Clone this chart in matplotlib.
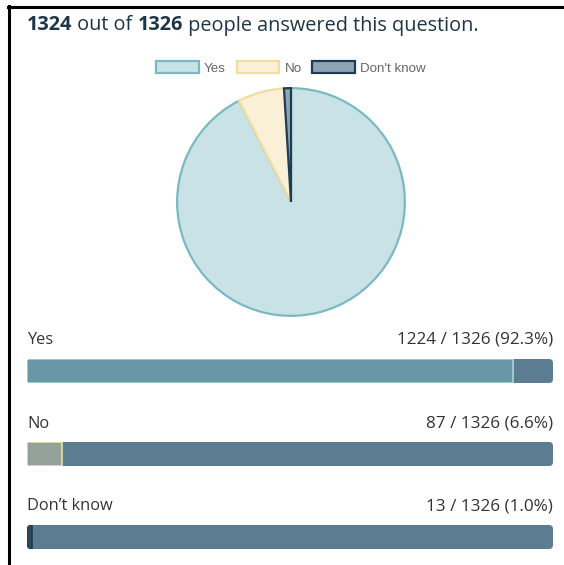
import matplotlib
matplotlib.use("Agg")
import matplotlib.pyplot as plt
from matplotlib.patches import Patch, FancyBboxPatch

categories = ["Yes", "No", "Don\u2019t know"]
legend_labels = ["Yes", "No", "Don't know"]
counts = [1224, 87, 13]
total = 1326
answered = 1324

pie_fill = ["#c8e2e5", "#faf0d8", "#8fa5b5"]
pie_edge = ["#7ab9c1", "#f0dea0", "#1f3c52"]
bar_fill = ["#6897a7", "#94a39a", "#2c4a5e"]
bar_edge = ["#a9d3d9", "#f0dea0", "#1f3c52"]
track = "#5c7d91"
text_col = "#333333"
title_col = "#1d3547"

W, H = 564, 565
fig = plt.figure(figsize=(W / 100, H / 100), dpi=100)
fig.patch.set_facecolor("white")

def fx(px):
    return px / W

def fy(py):
    return 1 - py / H

# frame lines (top and left)
fig.add_artist(plt.Line2D([fx(8), 1], [fy(6.5), fy(6.5)], color="black", lw=2.2))
fig.add_artist(plt.Line2D([fx(9), fx(9)], [fy(5.5), 0], color="black", lw=2.2))

# title with bold numbers
title_parts = [(str(answered), "bold"), (" out of ", "normal"), (str(total), "bold"),
               (" people answered this question.", "normal")]
fig.canvas.draw()
renderer = fig.canvas.get_renderer()
x = fx(27)
for s, w in title_parts:
    t = fig.text(x, fy(25.5), s, fontsize=14.3, fontweight=w, color=title_col,
                 family="Open Sans", va="center", ha="left")
    bb = t.get_window_extent(renderer=renderer)
    x += bb.width / W

# pie
pax = fig.add_axes([fx(176), fy(317), fx(230), 230 / H])
wedges, _ = pax.pie(counts, startangle=90, counterclock=False, colors=pie_fill,
                    wedgeprops=dict(linewidth=1.6))
for wdg, ec in zip(wedges, pie_edge):
    wdg.set_edgecolor(ec)
pax.set_xlim(-1.01, 1.01)
pax.set_ylim(-1.01, 1.01)
pax.set_aspect("equal")

# legend
handles = [Patch(facecolor=f, edgecolor=e, linewidth=1.6, label=l)
           for f, e, l in zip(pie_fill, pie_edge, legend_labels)]
leg = fig.legend(handles=handles, loc="center", bbox_to_anchor=(fx(291), fy(68)),
                 ncol=3, frameon=False, handlelength=3.2, handleheight=0.98,
                 handletextpad=0.38, columnspacing=0.82, borderpad=0, borderaxespad=0,
                 prop=dict(family="Liberation Sans", size=9.6))
for t in leg.get_texts():
    t.set_color("#666666")

# bars
label_y = [339.5, 423.5, 506.5]
bar_top = [359, 442, 525]
bar_h = 24
bar_w = 553 - 27
rpx = 4
for i, (cat, c) in enumerate(zip(categories, counts)):
    fig.text(fx(27), fy(label_y[i]), cat, fontsize=11.8, color=text_col,
             family="Open Sans", va="center", ha="left")
    fig.text(fx(553), fy(label_y[i]), f"{c} / {total} ({c / total * 100:.1f}%)",
             fontsize=12.3, color=text_col, family="Open Sans", va="center", ha="right")
    ax = fig.add_axes([fx(27), fy(bar_top[i] + bar_h), fx(553) - fx(27), bar_h / H])
    ax.set_xlim(0, total)
    ax.set_ylim(0, 1)
    clip = FancyBboxPatch((0, 0), 1, 1, boxstyle=f"round,pad=0,rounding_size={rpx / bar_w}",
                          mutation_aspect=bar_w / bar_h, transform=ax.transAxes,
                          facecolor="none", edgecolor="none")
    ax.add_patch(clip)
    b1 = ax.barh(0.5, total, height=1, color=track, edgecolor="none")
    b2 = ax.barh(0.5, c, height=0.96, color=bar_fill[i], edgecolor=bar_edge[i], linewidth=1.2)
    for p in list(b1) + list(b2):
        p.set_clip_path(clip)
    ax.axis("off")

fig.savefig("out.png", dpi=100, facecolor="white")
